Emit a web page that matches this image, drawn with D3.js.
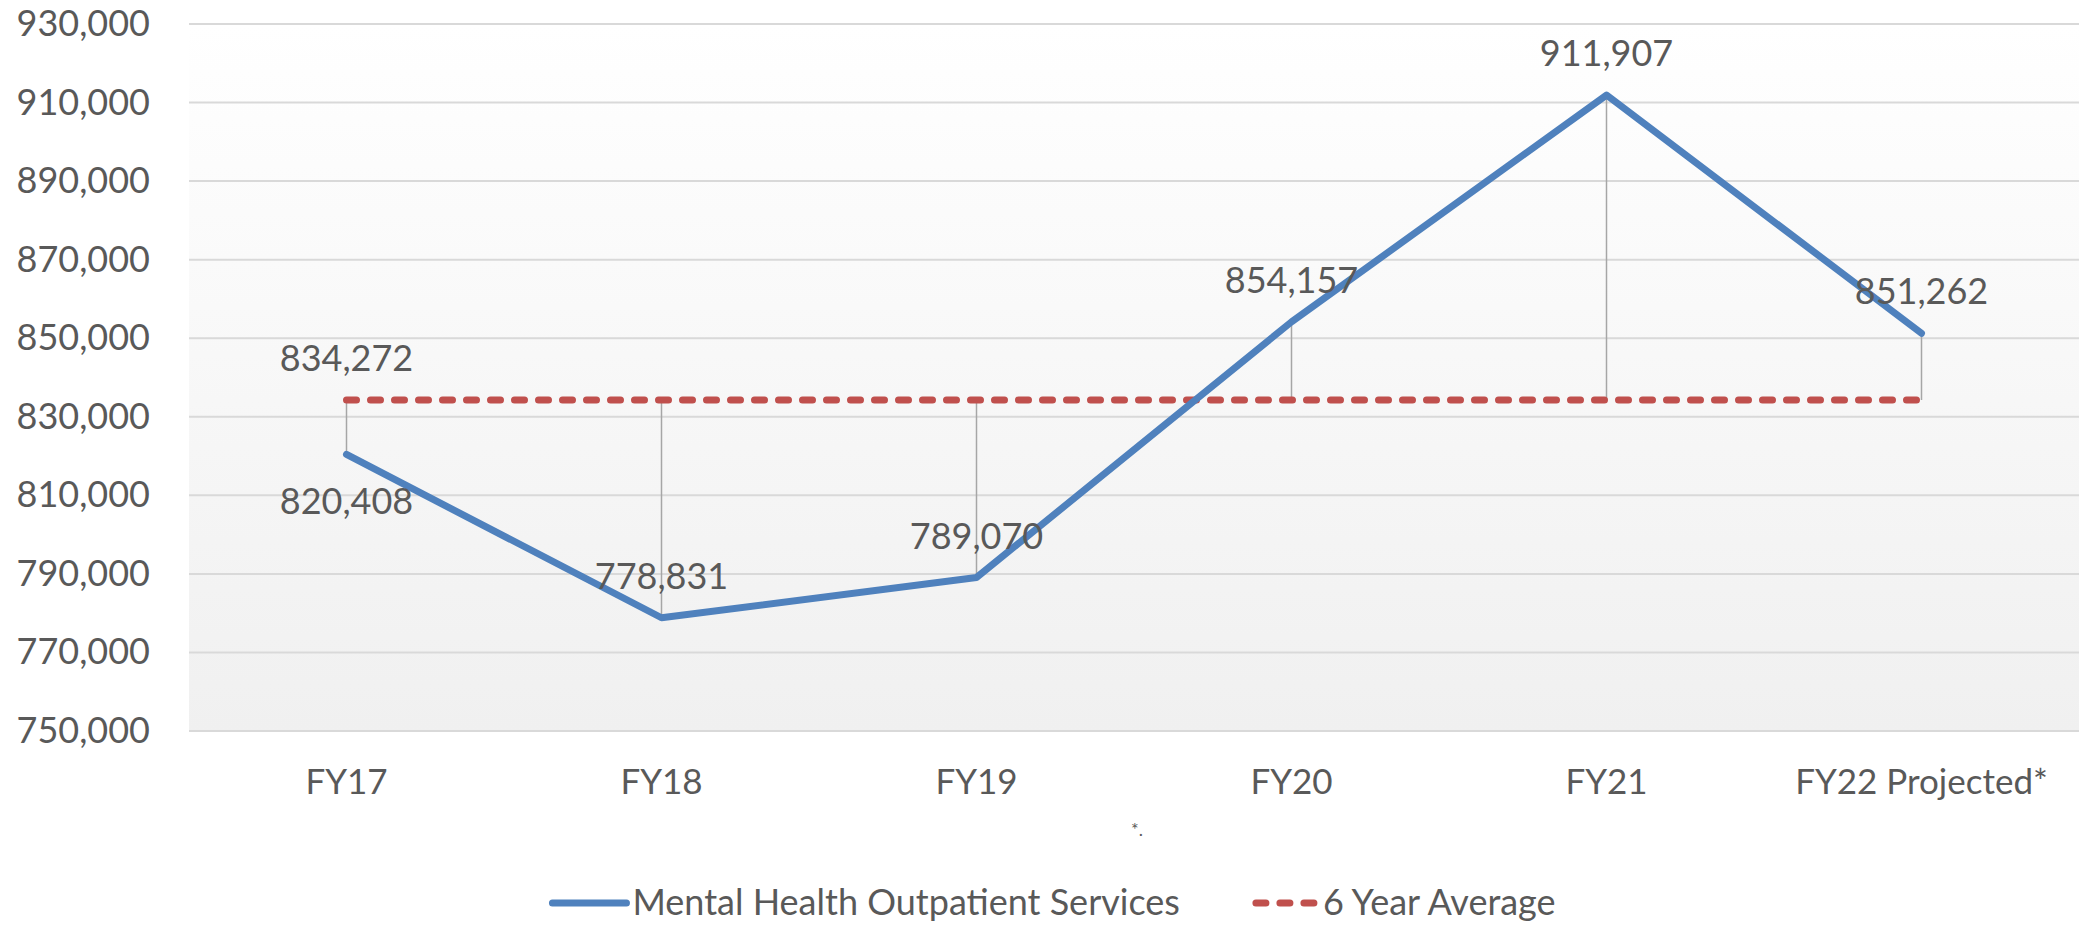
<!DOCTYPE html>
<html>

<head>
    <meta charset='utf-8'>
</head>
<style>
    body {
        margin: 0;
        background: #ffffff;
    }
    text {
        font-family: 'Lato', sans-serif;
        fill: #595959;
    }
</style>

<body>
    <svg width="2079" height="926"></svg>
    <script src="https://d3js.org/d3.v7.min.js"></script>
    <script>
        // chart data
        var categories = ["FY17", "FY18", "FY19", "FY20", "FY21", "FY22 Projected*"];
        var services = [820408, 778831, 789070, 854157, 911907, 851262];
        var average = [834272, 834272, 834272, 834272, 834272, 834272];
        var yTicks = [750000, 770000, 790000, 810000, 830000, 850000, 870000, 890000, 910000, 930000];
        var seriesNames = ["Mental Health Outpatient Services", "6 Year Average"];
        // label under the point for FY17 only, above for the rest
        var labelBelow = [true, false, false, false, false, false];

        var svg = d3.select('svg'),
            width = +svg.attr('width'),
            height = +svg.attr('height');

        // note: "top" is taken by window.top, so use plot* names
        var plotLeft = 189,
            plotRight = 2079,
            plotTop = 24,
            plotBottom = 731;

        var x = d3.scaleBand()
            .domain(categories)
            .range([plotLeft, plotRight]);

        var y = d3.scaleLinear()
            .domain([750000, 930000])
            .range([plotBottom, plotTop]);

        var fmt = d3.format(',');
        function cx(i) {
            return x(categories[i]) + x.bandwidth() / 2;
        }

        // plot area background, white fading to light grey
        var defs = svg.append('defs');
        var grad = defs.append('linearGradient')
            .attr('id', 'bg')
            .attr('x1', 0).attr('y1', 0)
            .attr('x2', 0).attr('y2', 1);
        grad.append('stop').attr('offset', '0%').attr('stop-color', '#ffffff');
        grad.append('stop').attr('offset', '100%').attr('stop-color', '#f0f0f0');

        svg.append('rect')
            .attr('x', plotLeft)
            .attr('y', plotTop)
            .attr('width', plotRight - plotLeft)
            .attr('height', plotBottom - plotTop)
            .attr('fill', 'url(#bg)');

        // gridlines
        svg.append('g')
            .selectAll('line')
            .data(yTicks)
            .enter().append('line')
            .attr('x1', plotLeft)
            .attr('x2', plotRight)
            .attr('y1', function(d) { return y(d); })
            .attr('y2', function(d) { return y(d); })
            .attr('stroke', '#d9d9d9')
            .attr('stroke-width', 2);

        // y axis labels
        var yAxis = svg.append('g')
            .attr('transform', 'translate(' + (plotLeft - 39) + ',0)')
            .call(d3.axisLeft(y).tickValues(yTicks).tickFormat(fmt).tickSize(0).tickPadding(0));
        yAxis.select('.domain').remove();
        yAxis.selectAll('text')
            .attr('fill', '#595959')
            .style('font-size', '36px')
            .style('font-family', 'Lato, sans-serif');

        // x axis labels
        var xAxis = svg.append('g')
            .attr('transform', 'translate(0,' + plotBottom + ')')
            .call(d3.axisBottom(x).tickSize(0).tickPadding(38));
        xAxis.select('.domain').remove();
        xAxis.selectAll('text')
            .attr('fill', '#595959')
            .style('font-size', '35px')
            .style('font-family', 'Lato, sans-serif');

        // vertical lines between the two series
        svg.append('g')
            .selectAll('line')
            .data(services)
            .enter().append('line')
            .attr('x1', function(d, i) { return cx(i); })
            .attr('x2', function(d, i) { return cx(i); })
            .attr('y1', function(d) { return y(d); })
            .attr('y2', function(d, i) { return y(average[i]); })
            .attr('stroke', '#a6a6a6')
            .attr('stroke-width', 1.5);

        var line = d3.line()
            .x(function(d, i) { return cx(i); })
            .y(function(d) { return y(d); });

        svg.append('path')
            .datum(average)
            .attr('d', line)
            .attr('fill', 'none')
            .attr('stroke', '#c0504d')
            .attr('stroke-width', 7)
            .attr('stroke-linecap', 'round')
            .attr('stroke-dasharray', '10,14');

        svg.append('path')
            .datum(services)
            .attr('d', line)
            .attr('fill', 'none')
            .attr('stroke', '#4f81bd')
            .attr('stroke-width', 7)
            .attr('stroke-linejoin', 'round')
            .attr('stroke-linecap', 'round');

        // data labels
        svg.append('g')
            .selectAll('text')
            .data(services)
            .enter().append('text')
            .attr('x', function(d, i) { return cx(i); })
            .attr('y', function(d, i) { return labelBelow[i] ? y(d) + 60 : y(d) - 29; })
            .attr('text-anchor', 'middle')
            .style('font-size', '36px')
            .text(fmt);

        svg.append('text')
            .attr('x', cx(0))
            .attr('y', y(average[0]) - 29)
            .attr('text-anchor', 'middle')
            .style('font-size', '36px')
            .text(fmt(average[0]));

        // footnote mark
        svg.append('text')
            .attr('x', 1137)
            .attr('y', 836)
            .attr('text-anchor', 'middle')
            .style('font-size', '18px')
            .text('*.');

        // legend
        var legend = svg.append('g');
        var item1 = legend.append('g');
        item1.append('line')
            .attr('x1', 0).attr('x2', 74)
            .attr('y1', 0).attr('y2', 0)
            .attr('stroke', '#4f81bd')
            .attr('stroke-width', 7)
            .attr('stroke-linecap', 'round');
        var t1 = item1.append('text')
            .attr('x', 80)
            .attr('y', 12)
            .style('font-size', '36px')
            .text(seriesNames[0]);

        var w1 = 80 + t1.node().getComputedTextLength();
        var item2 = legend.append('g')
            .attr('transform', 'translate(' + (w1 + 73) + ',0)');
        item2.append('line')
            .attr('x1', 3).attr('x2', 65)
            .attr('y1', 0).attr('y2', 0)
            .attr('stroke', '#c0504d')
            .attr('stroke-width', 7)
            .attr('stroke-linecap', 'round')
            .attr('stroke-dasharray', '10,14');
        var t2 = item2.append('text')
            .attr('x', 70)
            .attr('y', 12)
            .style('font-size', '36px')
            .text(seriesNames[1]);

        var total = w1 + 73 + 70 + t2.node().getComputedTextLength();
        legend.attr('transform', 'translate(' + (1054 - total / 2) + ',903)');
    </script>
</body>

</html>
